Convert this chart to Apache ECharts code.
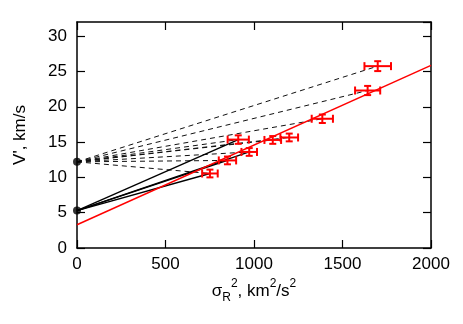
<!DOCTYPE html>
<html><head><meta charset="utf-8">
<script src="https://cdn.jsdelivr.net/npm/echarts@6/dist/echarts.min.js"></script>
<style>html,body{margin:0;padding:0;background:#fff}#c{width:463px;height:324px}</style>
</head><body><div id="c"></div>
<script>
// ---- data ----
const xValues = [751, 850, 911, 973, 1106, 1199, 1386, 1642, 1699];
const yValues = [10.55, 12.4, 15.35, 13.6, 15.3, 15.65, 18.3, 22.3, 25.75];
const xErrors = [44, 49, 60, 44, 47, 50, 60, 71, 75];
const yErrors = [0.55, 0.55, 0.6, 0.55, 0.55, 0.55, 0.6, 0.65, 0.7];
const upperAnchor = [0, 12.2];
const lowerAnchor = [0, 5.3];
const dashedTargets = [0, 1, 2, 3, 4, 5, 6, 7, 8];
const solidTargets = [0, 1, 2, 3];
const fitX = [0, 2000];
const fitY = [3.3, 25.85];
const xTicks = [0, 500, 1000, 1500, 2000];
const yTicks = [0, 5, 10, 15, 20, 25, 30];

// ---- chart ----
const chart = echarts.init(document.getElementById('c'), null, {renderer: 'canvas'});
const FONT = 'Liberation Sans';
const black = '#000';

function axisCommon(showLabel) {
  return {
    type: 'value',
    axisLine: {show: true, onZero: false, lineStyle: {color: black, width: 1.5}},
    axisTick: {show: true, inside: true, length: 8, lineStyle: {color: black, width: 1.2}},
    splitLine: {show: false},
    axisLabel: {show: showLabel, color: black, fontSize: 17, fontFamily: FONT, margin: 8,
      formatter: v => String(v)},
  };
}

const series = [];
dashedTargets.forEach(i => {
  series.push({
    type: 'line', silent: true, animation: false, showSymbol: false, symbol: 'none',
    data: [upperAnchor, [xValues[i], yValues[i]]],
    lineStyle: {color: '#111', width: 1, type: [5, 4]}, z: 2
  });
});
solidTargets.forEach(i => {
  series.push({
    type: 'line', silent: true, animation: false, showSymbol: false, symbol: 'none',
    data: [lowerAnchor, [xValues[i], yValues[i]]],
    lineStyle: {color: black, width: 1.4}, z: 3
  });
});
series.push({
  type: 'line', silent: true, animation: false, showSymbol: false, symbol: 'none',
  data: fitX.map((x, k) => [x, fitY[k]]),
  lineStyle: {color: '#ff0000', width: 1.5}, z: 4
});
series.push({
  type: 'custom', animation: false, silent: true, z: 5,
  data: xValues.map((x, k) => [x, yValues[k], xErrors[k], yErrors[k]]),
  renderItem(params, api) {
    const x = api.value(0), y = api.value(1), ex = api.value(2), ey = api.value(3);
    const l = api.coord([x - ex, y]), r = api.coord([x + ex, y]);
    const t = api.coord([x, y + ey]), b = api.coord([x, y - ey]);
    const capH = 4, capW = 3.5;
    const style = {stroke: '#ff0000', lineWidth: 2, fill: null};
    const ln = (x1, y1, x2, y2) => ({type: 'line', shape: {x1, y1, x2, y2}, style});
    return {type: 'group', children: [
      ln(l[0], l[1], r[0], r[1]),
      ln(l[0], l[1] - capH, l[0], l[1] + capH),
      ln(r[0], r[1] - capH, r[0], r[1] + capH),
      ln(t[0], t[1], b[0], b[1]),
      ln(t[0] - capW, t[1], t[0] + capW, t[1]),
      ln(b[0] - capW, b[1], b[0] + capW, b[1])
    ]};
  }
});
series.push({
  type: 'scatter', silent: true, animation: false, symbol: 'circle', symbolSize: 8,
  itemStyle: {color: black}, data: [upperAnchor, lowerAnchor], z: 6
});

const xMain = Object.assign(axisCommon(true), {
  position: 'bottom', min: xTicks[0], max: xTicks[xTicks.length - 1], interval: 500,
  name: '{t|σ}{sub|R}{sup|2}{t|, km}{sup|2}{t|/s}{sup|2}',
  nameLocation: 'middle', nameGap: 28,
  nameTextStyle: {
    color: black, fontFamily: FONT, fontSize: 17,
    rich: {
      t: {fontSize: 17, fontFamily: FONT, color: black, lineHeight: 26, verticalAlign: 'middle'},
      sub: {fontSize: 12, fontFamily: FONT, color: black, lineHeight: 12, verticalAlign: 'bottom'},
      sup: {fontSize: 12, fontFamily: FONT, color: black, lineHeight: 12, verticalAlign: 'top'}
    }
  }
});
const xTop = Object.assign(axisCommon(false), {
  position: 'top', min: xTicks[0], max: xTicks[xTicks.length - 1], interval: 500
});
const yMain = Object.assign(axisCommon(true), {
  position: 'left', min: 0, max: 32, interval: 5,
  name: "V', km/s", nameLocation: 'middle', nameRotate: 90, nameGap: 48,
  nameTextStyle: {color: black, fontFamily: FONT, fontSize: 17}
});
yMain.axisLabel.showMaxLabel = false;
yMain.axisLabel.margin = 10;
const yRight = Object.assign(axisCommon(false), {
  position: 'right', min: 0, max: 32, interval: 5
});

chart.setOption({
  animation: false,
  backgroundColor: '#fff',
  grid: {left: 77, right: 32, top: 22, bottom: 76, containLabel: false},
  xAxis: [xMain, xTop],
  yAxis: [yMain, yRight],
  series
});
</script>
</body></html>
